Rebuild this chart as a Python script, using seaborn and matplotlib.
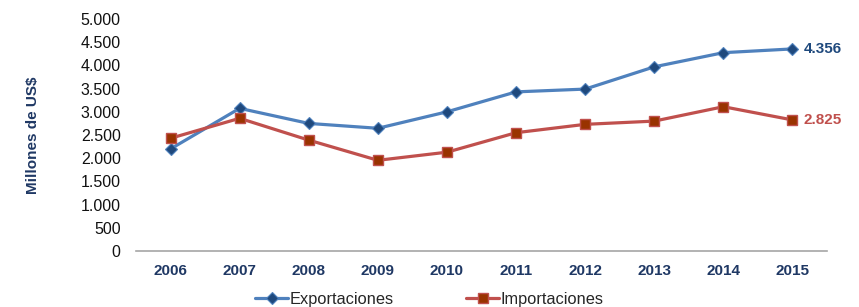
import numpy as np
import pandas as pd
import matplotlib
matplotlib.use("Agg")
import matplotlib.pyplot as plt
import seaborn as sns
from matplotlib.ticker import FuncFormatter

# Data (millones de US$)
years = [2006, 2007, 2008, 2009, 2010, 2011, 2012, 2013, 2014, 2015]
exportaciones = [2200, 3075, 2750, 2645, 3000, 3430, 3490, 3970, 4275, 4356]
importaciones = [2430, 2860, 2390, 1955, 2130, 2550, 2730, 2800, 3110, 2825]

#Colors
blue_line = '#4F81BD'
blue_mark = '#1F497D'
red_line = '#C0504D'
red_mark = '#993300'
navy_text = '#1F3864'

sns.set_theme(style='white')
plt.rcParams['font.family'] = ['Liberation Sans', 'DejaVu Sans']

df = pd.DataFrame({'year': years, 'Exportaciones': exportaciones, 'Importaciones': importaciones})

fig = plt.figure(figsize=(8.59, 3.07), dpi=100)
ax = fig.add_axes([0.1583, 0.1824, 0.8045, 0.7556])

sns.lineplot(data=df, x='year', y='Exportaciones', ax=ax, color=blue_line, linewidth=2.3,
             marker='D', markersize=6.5, markerfacecolor=blue_mark, markeredgecolor=blue_line,
             markeredgewidth=0.8, label='Exportaciones')
sns.lineplot(data=df, x='year', y='Importaciones', ax=ax, color=red_line, linewidth=2.3,
             marker='s', markersize=7, markerfacecolor=red_mark, markeredgecolor=red_line,
             markeredgewidth=1.0, label='Importaciones')

#Last-value labels
ax.annotate(f"{exportaciones[-1]:,}".replace(',', '.'), (years[-1], exportaciones[-1]),
            xytext=(8, 0), textcoords='offset points', va='center', ha='left',
            fontsize=11, fontweight='bold', color=blue_mark)
ax.annotate(f"{importaciones[-1]:,}".replace(',', '.'), (years[-1], importaciones[-1]),
            xytext=(8, 0), textcoords='offset points', va='center', ha='left',
            fontsize=11, fontweight='bold', color=red_line)

ax.set_xlim(years[0] - 0.5, years[-1] + 0.5)
ax.set_ylim(0, 5000)
ax.set_yticks(np.arange(0, 5001, 500))
ax.yaxis.set_major_formatter(FuncFormatter(lambda v, p: f"{int(v):,}".replace(',', '.')))
ax.set_xticks(years)
ax.set_xticklabels([str(y) for y in years], fontweight='bold', color=navy_text, fontsize=11)
ax.tick_params(axis='y', labelsize=11.5, labelcolor='#111111', length=0, pad=11)
ax.tick_params(axis='x', length=0, pad=9)
ax.set_xlabel('')
ax.set_ylabel('Millones de US$', fontweight='bold', color=navy_text, fontsize=11, labelpad=29)

for s in ['top', 'right', 'left']:
    ax.spines[s].set_visible(False)
ax.spines['bottom'].set_color('#A6A6A6')
ax.spines['bottom'].set_linewidth(1.2)
ax.grid(False)

ax.get_legend().remove()
handles, labels = ax.get_legend_handles_labels()
fig.legend(handles, labels, loc='center', bbox_to_anchor=(0.5, 0.025), ncol=2, frameon=False,
           fontsize=11.8, handlelength=2.0, columnspacing=4.4, handletextpad=0.1)

fig.savefig('out.png', dpi=100)
